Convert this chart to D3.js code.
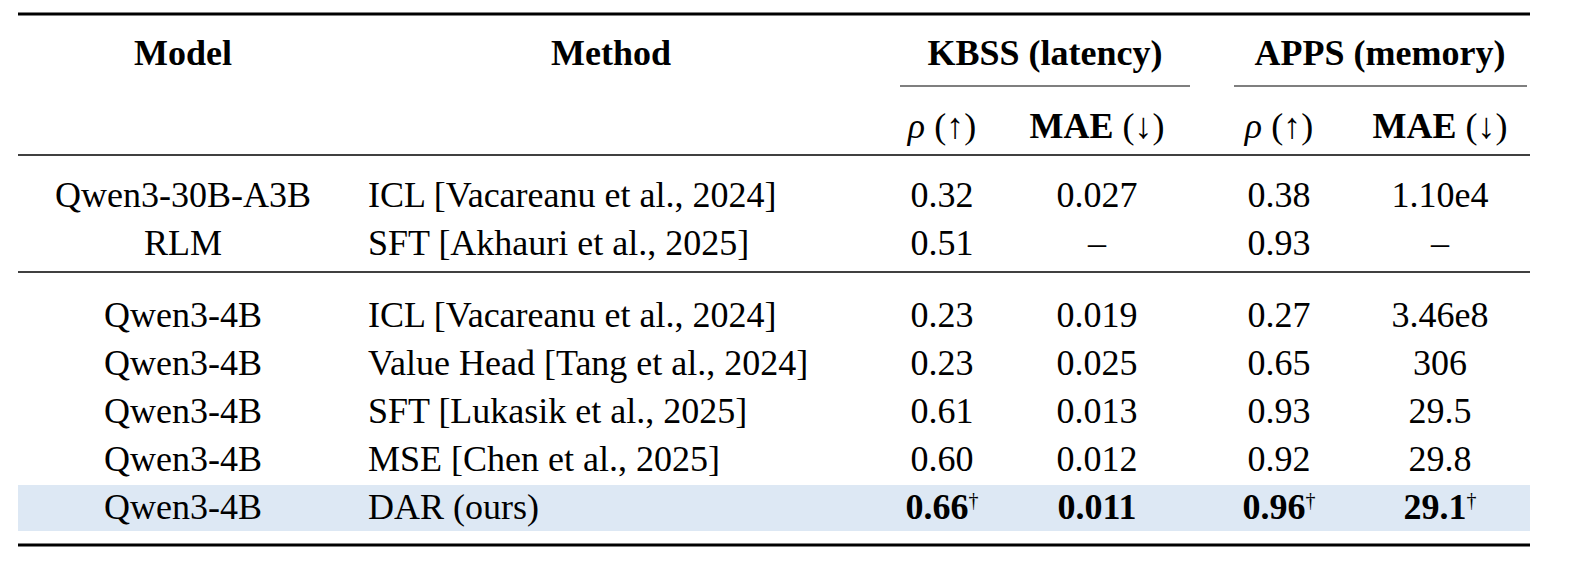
<!DOCTYPE html>
<html><head><meta charset="utf-8">
<script src="https://cdn.jsdelivr.net/npm/d3@7"></script>
<style>body{margin:0;background:#fff}text{font-family:"Liberation Serif","Times New Roman",serif;fill:#000}</style>
</head><body><svg id="c" width="1596" height="568"></svg>
<script>
const models=["Qwen3-30B-A3B","RLM","Qwen3-4B","Qwen3-4B","Qwen3-4B","Qwen3-4B","Qwen3-4B"];
const methods=["ICL [Vacareanu et al., 2024]","SFT [Akhauri et al., 2025]","ICL [Vacareanu et al., 2024]","Value Head [Tang et al., 2024]","SFT [Lukasik et al., 2025]","MSE [Chen et al., 2025]","DAR (ours)"];
const kbssRho=["0.32","0.51","0.23","0.23","0.61","0.60","0.66"];
const kbssMae=["0.027","–","0.019","0.025","0.013","0.012","0.011"];
const appsRho=["0.38","0.93","0.27","0.65","0.93","0.92","0.96"];
const appsMae=["1.10e4","–","3.46e8","306","29.5","29.8","29.1"];
const daggers=[true,false,true,true];
const rowY=[194,242,314,362,410,458,506];
const svg=d3.select("#c");
const L=18,R=1530,fs=36;
const x=d3.scaleOrdinal().domain(["model","rhoK","maeK","rhoA","maeA"]).range([183,942,1097,1279,1440]);
const methodX=368;
function line(x1,x2,y,w){svg.append("line").attr("x1",x1).attr("x2",x2).attr("y1",y).attr("y2",y).attr("stroke","#000").attr("stroke-width",w);}
svg.append("rect").attr("x",L).attr("y",485).attr("width",R-L).attr("height",46).attr("fill","#dde8f4");
line(L,R,14,3);line(900,1190,86,1.2);line(1234,1527,86,1.2);line(L,R,155,1.5);line(L,R,272,1.5);line(L,R,545,3);
function t(s,xx,y,anchor,bold){return svg.append("text").attr("x",xx).attr("y",y).attr("dy","0.35em").attr("text-anchor",anchor).attr("font-size",fs).attr("font-weight",bold?"bold":"normal").text(s);}
t("Model",x("model"),52,"middle",true);
t("Method",611,52,"middle",true);
t("KBSS (latency)",1045,52,"middle",true);
t("APPS (memory)",1380,52,"middle",true);
function rho(xx){const e=svg.append("text").attr("x",xx).attr("y",125).attr("dy","0.35em").attr("text-anchor","middle").attr("font-size",fs);
 e.append("tspan").attr("font-style","italic").text("ρ");e.append("tspan").text(" (↑)");}
function mae(xx){const e=svg.append("text").attr("x",xx).attr("y",125).attr("dy","0.35em").attr("text-anchor","middle").attr("font-size",fs);
 e.append("tspan").attr("font-weight","bold").text("MAE");e.append("tspan").text(" (↓)");}
rho(x("rhoK"));mae(x("maeK"));rho(x("rhoA"));mae(x("maeA"));
const cols=[["rhoK",kbssRho],["maeK",kbssMae],["rhoA",appsRho],["maeA",appsMae]];
models.forEach((m,i)=>{
 const y=rowY[i],last=i===models.length-1;
 t(m,x("model"),y,"middle",false);
 t(methods[i],methodX,y,"start",false);
 cols.forEach(([k,arr],j)=>{
  const e=t(arr[i],x(k),y,"middle",last);
  if(last&&daggers[j]){e.append("tspan").attr("font-size",20).attr("font-weight","normal").attr("dy","-0.6em").text("†");}
 });
});
</script></body></html>
